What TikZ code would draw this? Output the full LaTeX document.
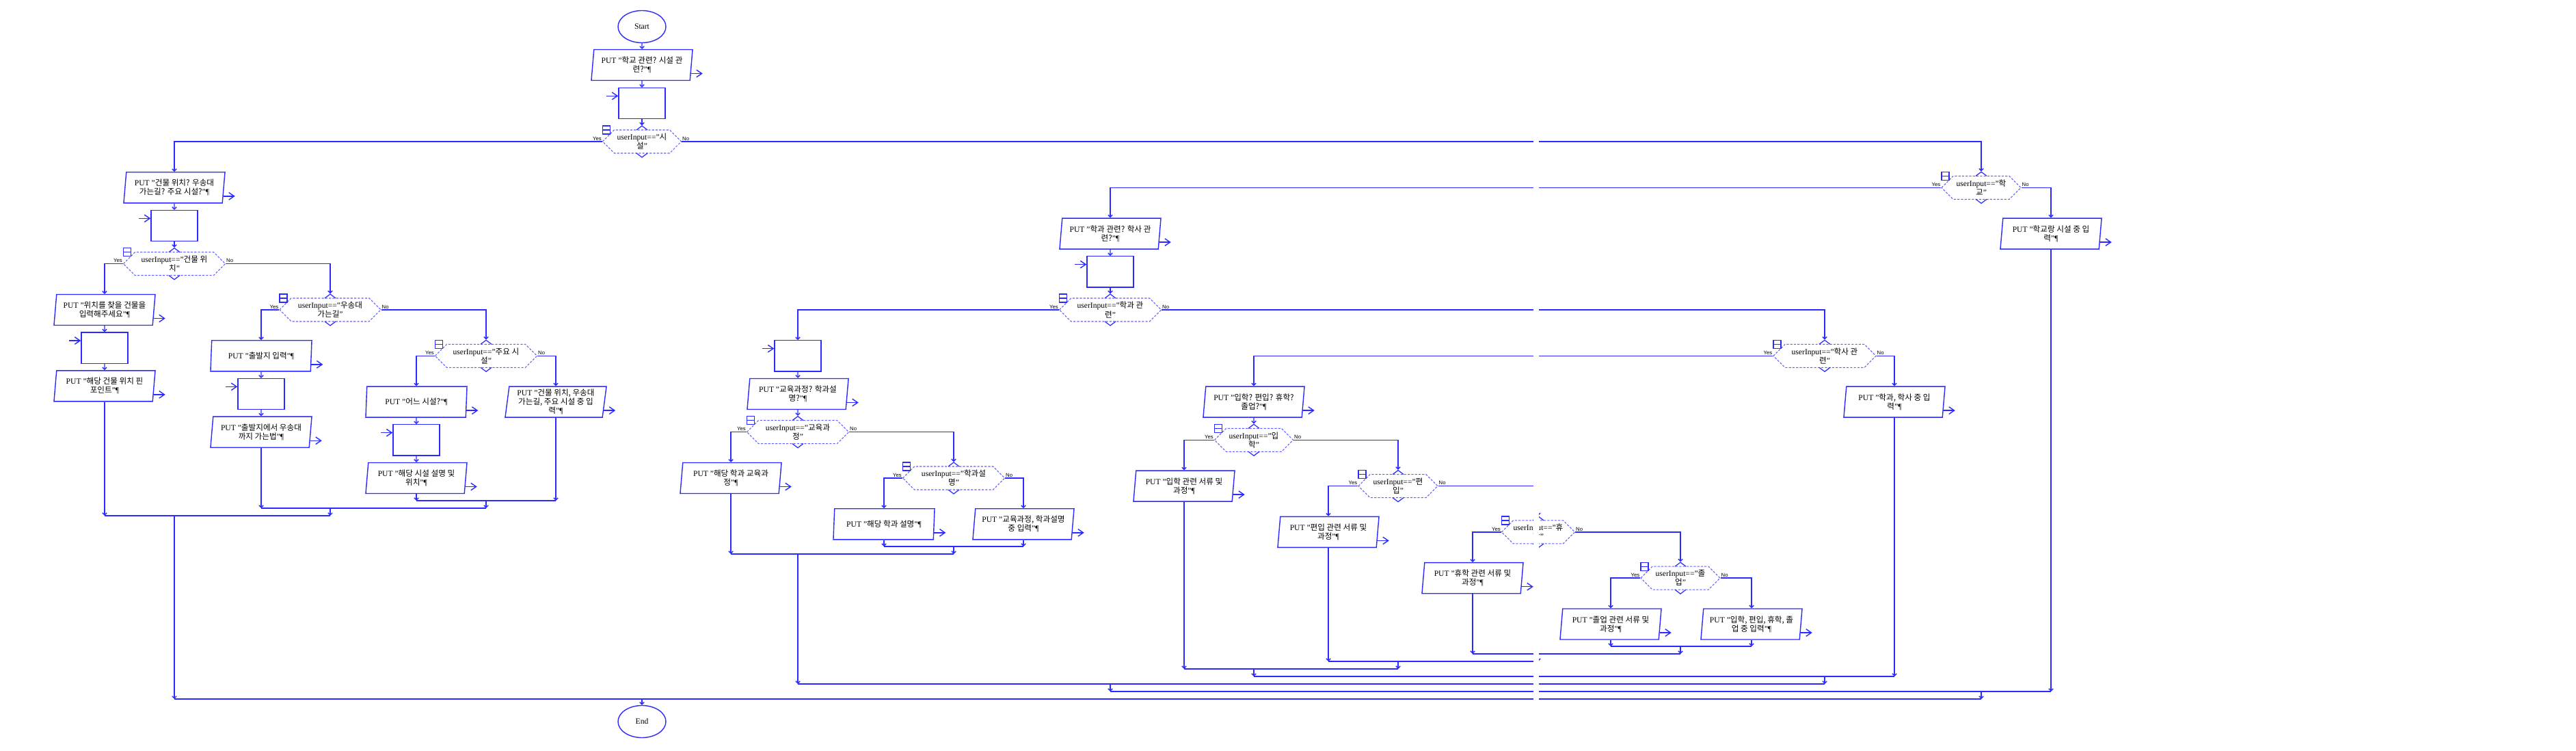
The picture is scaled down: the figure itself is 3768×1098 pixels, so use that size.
\documentclass[tikz,border=0pt]{standalone}
\usepackage{fontspec}
\setmainfont{Liberation Serif}
\setsansfont{Liberation Sans}
\newfontfamily\korfont{Noto Sans CJK KR}
\usepackage{tikz}
\usetikzlibrary{shapes.geometric,arrows.meta,calc}
\definecolor{flowblue}{HTML}{2B2BFF}
\definecolor{dashblue}{HTML}{6060FF}
\newcommand{\kor}[1]{{\korfont #1}}
\newcommand{\txtfont}{\fontsize{3.3}{3.7}\selectfont}
\newcommand{\ynfont}{\fontsize{2.2}{2.4}\selectfont\sffamily}
% output box with its side arrow
\newcommand{\putbox}[4]{%
  \node[putbox] (#1) at (#2,#3) {#4};
  \draw[sidearrow] ($(#1.bottom right corner)!0.23!(#1.top right corner)$) -- ++(17,0);
}
% input box with its side arrow
\newcommand{\getbox}[3]{%
  \node[getbox] (#1) at (#2,#3) {};
  \draw[sidearrow] ($(#1.bottom left corner)!0.73!(#1.top left corner)+(-17,0)$) -- ++(17,0);
}
% selection: name, x, y, half width, text
\newcommand{\decide}[5]{%
  \node[cond, minimum width=#4*0.02cm] (#1) at (#2,#3) {#5};
  \draw[condline] (#2-#4,#3) -- (#2-#4+17,#3-17) -- (#2+#4-17,#3-17) -- (#2+#4,#3)
    -- (#2+#4-17,#3+17) -- (#2-#4+17,#3+17) -- cycle;
  \draw[notch] (#2-8,#3-17) -- (#2,#3-23) -- (#2+8,#3-17)
    (#2-8,#3+17) -- (#2,#3+23) -- (#2+8,#3+17);
  \draw[notch] (#2-#4,#3-23) rectangle (#2-#4+11,#3-11) (#2-#4,#3-17) -- (#2-#4+11,#3-17);
  \node[yesno, anchor=south east] at (#2-#4-1,#3-1) {Yes};
  \node[yesno, anchor=south west] at (#2+#4+1,#3-1) {No};
}
% merge of two branches at a junction
\newcommand{\joinup}[3]{%
  \draw[flow] (#1) -- (#1 |- #3);
  \draw[flow] (#2) -- (#2 |- #3);
  \draw[line] (#1 |- #3) -- (#2 |- #3);
}

\begin{document}
\begin{tikzpicture}[
    x=0.01cm, y=-0.01cm,
    line/.style={draw=flowblue, line width=0.4pt},
    flow/.style={line, -{Straight Barb[length=0.9pt,width=1.8pt]}},
    sidearrow/.style={line, -{Straight Barb[length=2.2pt,width=3pt]}},
    putbox/.style={trapezium, trapezium left angle=81, trapezium right angle=99, trapezium stretches body,
      draw=flowblue, line width=0.4pt, minimum width=1.48cm, minimum height=0.45cm, inner sep=0pt,
      align=center, font=\txtfont},
    getbox/.style={putbox, minimum width=0.68cm},
    terminal/.style={ellipse, draw=flowblue, line width=0.4pt, minimum width=0.7cm, minimum height=0.47cm,
      inner sep=0pt, font=\txtfont},
    cond/.style={minimum height=0.46cm, inner sep=0pt, align=center, font=\txtfont},
    condline/.style={draw=dashblue, line width=0.3pt, dash pattern=on 0.9pt off 0.6pt},
    notch/.style={draw=flowblue, line width=0.35pt},
    yesno/.style={inner sep=0pt, font=\ynfont}
]
    \useasboundingbox (0,0) rectangle (3768,1098);

    \node[terminal] (start) at (939,39) {Start};
    \putbox{p1}{939}{95}{PUT "\kor{학교 관련? 시설 관}\\\kor{련?}"¶}
    \getbox{i1}{939}{151}
    \decide{d1}{939}{207}{57.5}{userInput=="\kor{시}\\\kor{설}"}

    % 시설 branch
    \putbox{p2}{255}{274.3}{PUT "\kor{건물 위치? 우송대}\\\kor{가는길? 주요 시설?}"¶}
    \getbox{i2}{255}{330}
    \decide{d2}{255}{385.7}{74.5}{userInput=="\kor{건물 위}\\\kor{치}"}
    \putbox{p3}{153}{453}{PUT "\kor{위치를 찾을 건물을}\\\kor{입력해주세요}"¶}
    \getbox{i3}{153}{508.7}
    \putbox{p4}{153}{564.4}{PUT "\kor{해당 건물 위치 핀}\\\kor{포인트}"¶}
    \decide{d3}{483}{453}{74}{userInput=="\kor{우송대}\\\kor{가는길}"}
    \putbox{p5}{382}{520.3}{PUT "\kor{출발지 입력}"¶}
    \getbox{i5}{382}{576}
    \putbox{p6}{382}{631.7}{PUT "\kor{출발지에서 우송대}\\\kor{까지 가는법}"¶}
    \decide{d4}{711}{520.3}{74.5}{userInput=="\kor{주요 시}\\\kor{설}"}
    \putbox{p7}{609}{587.6}{PUT "\kor{어느 시설?}"¶}
    \getbox{i7}{609}{643.3}
    \putbox{p8}{609}{699}{PUT "\kor{해당 시설 설명 및}\\\kor{위치}"¶}
    \putbox{p9}{813}{587.6}{PUT "\kor{건물 위치, 우송대}\\\kor{가는길, 주요 시설 중 입}\\\kor{력}"¶}

    % 학교 branch
    \decide{d5}{2898}{274.3}{58}{userInput=="\kor{학}\\\kor{교}"}
    \putbox{p10}{3000}{341.6}{PUT "\kor{학교랑 시설 중 입}\\\kor{력}"¶}
    \putbox{p11}{1624}{341.6}{PUT "\kor{학과 관련? 학사 관}\\\kor{련?}"¶}
    \getbox{i11}{1624}{397.3}
    \decide{d6}{1624}{453}{74.5}{userInput=="\kor{학과 관}\\\kor{련}"}
    \getbox{i12}{1167}{520.3}
    \putbox{p12}{1167}{576}{PUT "\kor{교육과정? 학과설}\\\kor{명?}"¶}
    \decide{d7}{1167}{631.7}{74.5}{userInput=="\kor{교육과}\\\kor{정}"}
    \putbox{p13}{1069}{699}{PUT "\kor{해당 학과 교육과}\\\kor{정}"¶}
    \decide{d8}{1395}{699}{74.5}{userInput=="\kor{학과설}\\\kor{명}"}
    \putbox{p14}{1293}{766.3}{PUT "\kor{해당 학과 설명}"¶}
    \putbox{p15}{1497}{766.3}{PUT "\kor{교육과정, 학과설명}\\\kor{중 입력}"¶}
    \decide{d9}{2669}{520.3}{75}{userInput=="\kor{학사 관}\\\kor{련}"}
    \putbox{p16}{2771}{587.6}{PUT "\kor{학과, 학사 중 입}\\\kor{력}"¶}
    \putbox{p17}{1834}{587.6}{PUT "\kor{입학? 편입? 휴학?}\\\kor{졸업?}"¶}
    \decide{d10}{1834}{643.3}{57.5}{userInput=="\kor{입}\\\kor{학}"}
    \putbox{p18}{1732}{710.6}{PUT "\kor{입학 관련 서류 및}\\\kor{과정}"¶}
    \decide{d11}{2045}{710.6}{58}{userInput=="\kor{편}\\\kor{입}"}
    \putbox{p19}{1943}{777.9}{PUT "\kor{편입 관련 서류 및}\\\kor{과정}"¶}
    \decide{d12}{2250}{777.9}{53.5}{userInput=="\kor{휴}\\\kor{학}"}
    \putbox{p20}{2154}{845.2}{PUT "\kor{휴학 관련 서류 및}\\\kor{과정}"¶}
    \decide{d13}{2458}{845.2}{58}{userInput=="\kor{졸}\\\kor{업}"}
    \putbox{p21}{2356}{912.5}{PUT "\kor{졸업 관련 서류 및}\\\kor{과정}"¶}
    \putbox{p22}{2562}{912.5}{PUT "\kor{입학, 편입, 휴학, 졸}\\\kor{업 중 입력}"¶}

    \node[terminal] (end) at (939,1055) {End};

    % junctions
    \coordinate (j4) at (711,732);
    \coordinate (j3) at (483,743);
    \coordinate (j2) at (255,754);
    \coordinate (j13) at (2458,945);
    \coordinate (j12) at (2250,956);
    \coordinate (j11) at (2045,967);
    \coordinate (j10) at (1834,978);
    \coordinate (j9) at (2669,989);
    \coordinate (j8) at (1395,799);
    \coordinate (j7) at (1167,810);
    \coordinate (j6) at (1624,1000);
    \coordinate (j5) at (2898,1011);
    \coordinate (j1) at (939,1022);

    \draw[flow] (start) -- (p1);
    \draw[flow] (p1) -- (i1);
    \draw[flow] (i1) -- (d1);
    \draw[flow] (d1.west) -| (p2.north);
    \draw[flow] (d1.east) -| (d5.north);

    \draw[flow] (p2) -- (i2);
    \draw[flow] (i2) -- (d2);
    \draw[flow] (d2.west) -| (p3.north);
    \draw[flow] (d2.east) -| (d3.north);
    \draw[flow] (p3) -- (i3);
    \draw[flow] (i3) -- (p4);
    \draw[flow] (d3.west) -| (p5.north);
    \draw[flow] (d3.east) -| (d4.north);
    \draw[flow] (p5) -- (i5);
    \draw[flow] (i5) -- (p6);
    \draw[flow] (d4.west) -| (p7.north);
    \draw[flow] (d4.east) -| (p9.north);
    \draw[flow] (p7) -- (i7);
    \draw[flow] (i7) -- (p8);

    \draw[flow] (d5.west) -| (p11.north);
    \draw[flow] (d5.east) -| (p10.north);
    \draw[flow] (p11) -- (i11);
    \draw[flow] (i11) -- (d6);
    \draw[flow] (d6.west) -| (i12.north);
    \draw[flow] (d6.east) -| (d9.north);
    \draw[flow] (i12) -- (p12);
    \draw[flow] (p12) -- (d7);
    \draw[flow] (d7.west) -| (p13.north);
    \draw[flow] (d7.east) -| (d8.north);
    \draw[flow] (d8.west) -| (p14.north);
    \draw[flow] (d8.east) -| (p15.north);
    \draw[flow] (d9.west) -| (p17.north);
    \draw[flow] (d9.east) -| (p16.north);
    \draw[flow] (p17) -- (d10);
    \draw[flow] (d10.west) -| (p18.north);
    \draw[flow] (d10.east) -| (d11.north);
    \draw[flow] (d11.west) -| (p19.north);
    \draw[flow] (d11.east) -| (d12.north);
    \draw[flow] (d12.west) -| (p20.north);
    \draw[flow] (d12.east) -| (d13.north);
    \draw[flow] (d13.west) -| (p21.north);
    \draw[flow] (d13.east) -| (p22.north);

    \joinup{p8.south}{p9.south}{j4}
    \joinup{p6.south}{j4}{j3}
    \joinup{p4.south}{j3}{j2}
    \joinup{p14.south}{p15.south}{j8}
    \joinup{p13.south}{j8}{j7}
    \joinup{p21.south}{p22.south}{j13}
    \joinup{p20.south}{j13}{j12}
    \joinup{p19.south}{j12}{j11}
    \joinup{p18.south}{j11}{j10}
    \joinup{j10}{p16.south}{j9}
    \joinup{j7}{j9}{j6}
    \joinup{j6}{p10.south}{j5}
    \joinup{j2}{j5}{j1}
    \draw[flow] (j1) -- (end);

    % page seam of the original print
    \fill[white] (2243,0) rectangle (2251,1098);
\end{tikzpicture}
\end{document}
